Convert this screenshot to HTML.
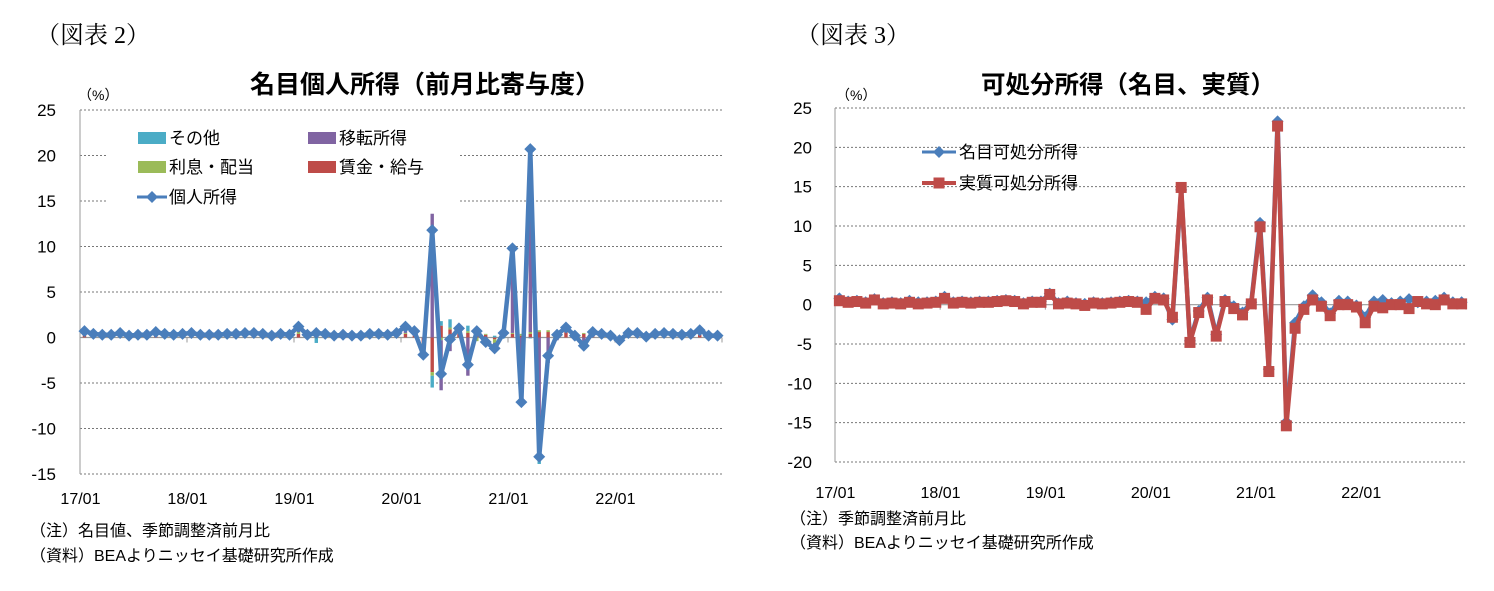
<!DOCTYPE html>
<html><head><meta charset="utf-8"><style>
body{margin:0;background:#fff;width:1494px;height:591px;overflow:hidden}
svg{display:block;font-family:"Liberation Sans","Noto Sans CJK JP",sans-serif}
.serif{font-family:"Liberation Serif","Noto Serif CJK SC",serif}
</style></head><body>
<svg id="s" width="1494" height="591" xmlns="http://www.w3.org/2000/svg">
<text class="serif" x="36" y="43" font-size="24">（図表 2）</text>
<text x="425" y="93" font-size="25" font-weight="bold" text-anchor="middle">名目個人所得（前月比寄与度）</text>
<text x="78" y="100" font-size="14">（%）</text>
<text x="30" y="536" font-size="16">（注）名目値、季節調整済前月比</text>
<text x="30" y="561" font-size="16">（資料）BEAよりニッセイ基礎研究所作成</text>
<text class="serif" x="796" y="43" font-size="24">（図表 3）</text>
<text x="1128" y="93" font-size="24.5" font-weight="bold" text-anchor="middle">可処分所得（名目、実質）</text>
<text x="836" y="100" font-size="14">（%）</text>
<text x="790" y="524" font-size="16">（注）季節調整済前月比</text>
<text x="790" y="548" font-size="16">（資料）BEAよりニッセイ基礎研究所作成</text>
<g id="c1"></g><g id="c2"></g>
</svg>
<script>
const yearLabels=["17/01","18/01","19/01","20/01","21/01","22/01"];
const ticks1=[25,20,15,10,5,0,-5,-10,-15];
const ticks2=[25,20,15,10,5,0,-5,-10,-15,-20];
const personalIncome=[0.7,0.4,0.3,0.3,0.5,0.2,0.3,0.3,0.6,0.4,0.3,0.4,
0.5,0.3,0.3,0.3,0.4,0.4,0.5,0.5,0.4,0.2,0.4,0.3,
1.2,0.3,0.5,0.4,0.2,0.3,0.2,0.2,0.4,0.4,0.3,0.5,
1.2,0.7,-1.9,11.8,-4.0,-0.2,1.0,-3.0,0.7,-0.5,-1.2,0.5,
9.8,-7.1,20.7,-13.1,-2.0,0.3,1.1,0.2,-0.9,0.6,0.4,0.2,
-0.3,0.5,0.5,0.1,0.4,0.5,0.4,0.3,0.4,0.8,0.2,0.2];
const wages=[0.3,0.2,0.2,0.2,0.3,0.1,0.2,0.2,0.3,0.2,0.2,0.2,
0.3,0.2,0.2,0.2,0.2,0.2,0.3,0.3,0.2,0.1,0.2,0.2,
0.4,0.2,0.3,0.2,0.1,0.2,0.1,0.1,0.2,0.2,0.2,0.3,
0.4,0.3,-0.6,-3.8,1.3,0.9,0.4,0.5,0.3,0.3,-0.2,0.3,
0.4,0.2,0.4,0.6,0.6,0.6,0.6,0.4,0.4,0.4,0.3,0.3,
0.2,0.3,0.3,0.2,0.2,0.3,0.2,0.2,0.2,0.3,0.1,0.1];
const interest=[0.1,0.1,0.1,0.0,0.1,0.0,0.0,0.0,0.1,0.1,0.0,0.1,
0.1,0.0,0.0,0.0,0.1,0.1,0.1,0.1,0.1,0.0,0.1,0.0,
0.2,0.0,0.1,0.1,0.0,0.0,0.0,0.0,0.1,0.1,0.0,0.1,
0.1,0.1,-0.1,-0.4,-0.3,0.2,0.2,0.2,-0.4,0.1,-0.4,0.2,
0.1,0.2,0.2,0.2,0.2,0.1,0.1,0.1,0.1,0.1,0.1,0.1,
0.0,0.1,0.1,0.0,0.1,0.1,0.1,0.0,0.1,0.1,0.0,0.0];
const transfers=[0.2,0.1,0.0,0.1,0.1,0.1,0.1,0.1,0.1,0.1,0.1,0.1,
0.1,0.1,0.1,0.1,0.1,0.1,0.1,0.1,0.1,0.1,0.1,0.1,
0.4,0.1,0.1,0.1,0.1,0.1,0.1,0.1,0.1,0.1,0.1,0.1,
0.4,0.2,-0.4,13.6,-5.5,-1.5,0.1,-4.2,0.4,-0.9,-0.8,0.1,
9.2,-7.5,20.2,-13.6,-2.8,-0.3,0.4,-0.3,-1.2,0.1,0.0,-0.2,
-0.5,0.1,0.1,-0.1,0.1,0.1,0.1,0.1,0.1,0.3,0.1,0.1];
const other=[0.1,0.0,0.0,0.0,0.0,0.0,0.0,0.0,0.1,0.0,0.0,0.0,
0.0,0.0,0.0,0.0,0.0,0.0,0.0,0.0,0.0,0.0,0.0,0.0,
0.2,0.0,-0.6,0.0,0.0,0.0,0.0,0.0,0.0,0.0,0.0,0.0,
0.3,0.1,-0.8,-1.3,0.5,0.9,0.3,0.6,0.4,0.0,0.2,-0.1,
0.1,0.0,-0.1,-0.3,0.0,0.0,0.0,0.0,0.0,0.0,0.0,0.0,
0.0,0.0,0.0,0.0,0.0,0.0,0.0,0.0,0.0,0.1,0.0,0.0];
const nominalDPI=[0.8,0.4,0.5,0.3,0.7,0.2,0.3,0.2,0.5,0.3,0.3,0.4,
1.0,0.3,0.4,0.3,0.4,0.4,0.5,0.6,0.5,0.2,0.4,0.4,
1.4,0.2,0.4,0.2,0.1,0.3,0.2,0.3,0.4,0.5,0.4,0.3,
1.0,0.8,-1.9,14.6,-4.6,-0.8,0.9,-3.8,0.6,-0.2,-1.0,0.3,
10.4,-8.2,23.3,-14.9,-2.3,-0.2,1.2,0.3,-1.1,0.5,0.4,-0.1,
-1.6,0.4,0.6,0.2,0.4,0.7,0.3,0.4,0.5,0.9,0.3,0.3];
const realDPI=[0.5,0.3,0.4,0.2,0.6,0.1,0.2,0.1,0.3,0.1,0.2,0.3,
0.8,0.2,0.3,0.2,0.3,0.3,0.4,0.5,0.4,0.1,0.3,0.3,
1.3,0.1,0.2,0.1,-0.1,0.2,0.1,0.2,0.3,0.4,0.3,-0.6,
0.8,0.6,-1.6,14.9,-4.8,-1.0,0.6,-4.0,0.4,-0.5,-1.3,0.1,
9.9,-8.5,22.7,-15.4,-3.0,-0.6,0.6,-0.2,-1.4,0.0,0.0,-0.3,
-2.3,-0.2,-0.4,0.0,0.0,-0.5,0.4,0.1,0.0,0.6,0.1,0.1];

const NS="http://www.w3.org/2000/svg";
function mk(parent,tag,attrs){const e=document.createElementNS(NS,tag);for(const k in attrs)e.setAttribute(k,attrs[k]);parent.appendChild(e);return e;}

function frame(g,L,R,T,B,ymax,ymin,ticks,labX,xLabY,legendBox){
  const y=v=>T+(ymax-v)*(B-T)/(ymax-ymin);
  const n=72,step=(R-L)/n;
  const x=i=>L+step*(i+0.5);
  ticks.forEach(t=>{
    if(t!==ymin){
      const gl=mk(g,'line',{x1:L,x2:R,y1:y(t),y2:y(t),stroke:t===0?'#999':'#777','stroke-width':t===0?1.2:1,'stroke-dasharray':t===0?'':'2,2'});
      
      
    }
    const tl=mk(g,'text',{x:labX,y:y(t)+6,'font-size':17,'text-anchor':'end'});
    tl.textContent=t;
    
    
  });
  const bl=mk(g,'line',{x1:L,x2:R,y1:B,y2:B,stroke:'#777','stroke-dasharray':'2,2'});
  
  
  const ax=mk(g,'line',{x1:L,x2:L,y1:T,y2:B,stroke:'#999'});
  
  
  if(legendBox){const lb=mk(g,'rect',legendBox);lb.setAttribute('fill','#fff');}
  yearLabels.forEach((s,k)=>{
    const xl=mk(g,'text',{x:x(k*12)-4,y:xLabY,'font-size':16,'text-anchor':'middle'});
    xl.textContent=s;
    
    
  });
  for(let k=0;k<=6;k++){const tk=mk(g,'line',{x1:L+step*12*k,x2:L+step*12*k,y1:y(0),y2:y(0)+5,stroke:'#999'});}
  return {x,y,step};
}
function line(g,vals,ax,color,name){
  const p=mk(g,'polyline',{points:vals.map((v,i)=>ax.x(i)+','+ax.y(v)).join(' '),fill:'none',stroke:color,'stroke-width':4.5,'stroke-linejoin':'round'});
  
  
}
// chart 1
const g1=document.getElementById('c1');
const a1=frame(g1,80,722,110,474,25,-15,ticks1,56,504,{x:108,y:125,width:352,height:88});
const series=[[wages,'#be4b48'],[interest,'#9bbb59'],[transfers,'#8064a2'],[other,'#4bacc6']];
for(let i=0;i<72;i++){
  let pos=0,neg=0;
  series.forEach(([arr,c])=>{
    const v=arr[i];let y0,y1;
    if(v>=0){y0=pos;y1=pos+v;pos=y1;}else{y0=neg;y1=neg+v;neg=y1;}
    const r=mk(g1,'rect',{x:a1.x(i)-1.7,width:3.4,y:Math.min(a1.y(y0),a1.y(y1)),height:Math.abs(a1.y(y0)-a1.y(y1)),fill:c});
    
    
  });
}
line(g1,personalIncome,a1,'#4a7ebb','personal-income-line');
personalIncome.forEach((v,i)=>{const cx=a1.x(i),cy=a1.y(v);const d=mk(g1,'polygon',{points:`${cx},${cy-6} ${cx+6},${cy} ${cx},${cy+6} ${cx-6},${cy}`,fill:'#4a7ebb'});});
// legend 1
const leg1=[[138,138,'#4bacc6','その他'],[308,138,'#8064a2','移転所得'],[138,167,'#9bbb59','利息・配当'],[308,167,'#be4b48','賃金・給与']];
leg1.forEach(([lx,ly,c,t])=>{const r=mk(g1,'rect',{x:lx,y:ly-6,width:28,height:12,fill:c});const tx=mk(g1,'text',{x:lx+31,y:ly+6,'font-size':17});tx.textContent=t;});
mk(g1,'line',{x1:137,x2:167,y1:197,y2:197,stroke:'#4a7ebb','stroke-width':3});
mk(g1,'polygon',{points:'152,191 158,197 152,203 146,197',fill:'#4a7ebb'});
{const tx=mk(g1,'text',{x:169,y:203,'font-size':17});tx.textContent='個人所得';}
// chart 2
const g2=document.getElementById('c2');
const a2=frame(g2,835,1466,108,462,25,-20,ticks2,812,498,null);
line(g2,nominalDPI,a2,'#4a7ebb','nominal-dpi-line');
nominalDPI.forEach((v,i)=>{const cx=a2.x(i),cy=a2.y(v);const d=mk(g2,'polygon',{points:`${cx},${cy-6} ${cx+6},${cy} ${cx},${cy+6} ${cx-6},${cy}`,fill:'#4a7ebb'});});
line(g2,realDPI,a2,'#be4b48','real-dpi-line');
realDPI.forEach((v,i)=>{const r=mk(g2,'rect',{x:a2.x(i)-5.5,y:a2.y(v)-5.5,width:11,height:11,fill:'#be4b48'});});
mk(g2,'line',{x1:922,x2:956,y1:152,y2:152,stroke:'#4a7ebb','stroke-width':3});
mk(g2,'polygon',{points:'939,146 945,152 939,158 933,152',fill:'#4a7ebb'});
{const tx=mk(g2,'text',{x:959,y:158,'font-size':17});tx.textContent='名目可処分所得';}
mk(g2,'line',{x1:922,x2:956,y1:183,y2:183,stroke:'#be4b48','stroke-width':4});
mk(g2,'rect',{x:933.5,y:177.5,width:11,height:11,fill:'#be4b48'});
{const tx=mk(g2,'text',{x:959,y:189,'font-size':17});tx.textContent='実質可処分所得';}
</script>
</body></html>
